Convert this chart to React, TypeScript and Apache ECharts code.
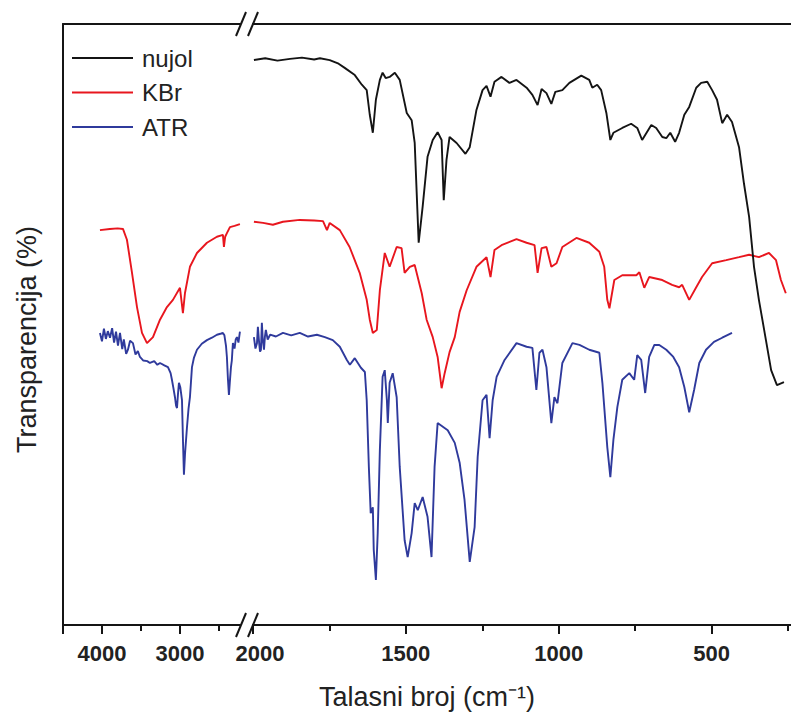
import React, { useEffect, useRef } from "react";
import * as echarts from "echarts";

// ---- data (wavenumber in cm-1, transmittance in arbitrary %) ----
const nujolWn = [1997,1960,1920,1879,1840,1800,1781,1749,1720,1700,1667,1644,1628,1618,1608,1598,1585,1576,1566,1553,1536,1520,1497,1481,1471,1458,1445,1429,1412,1396,1383,1376,1367,1357,1334,1305,1291,1269,1249,1236,1223,1210,1187,1161,1138,1105,1086,1069,1056,1040,1024,1011,988,965,926,900,890,874,861,844,831,821,792,763,743,727,697,681,661,648,635,619,606,589,573,550,534,514,498,482,465,449,433,410,394,377,361,345,322,305,286,263];
const nujolT = [94.0,94.3,93.9,94.2,94.4,94.1,94.3,94.0,93.4,92.7,91.5,89.9,89.0,84.9,81.9,87.4,90.7,91.9,91.0,91.2,91.9,90.7,85.2,84.0,80.2,63.6,69.6,77.9,80.7,82.0,80.7,70.7,77.4,81.2,80.2,78.4,79.5,85.7,89.0,89.7,87.9,90.4,91.2,90.2,90.7,89.4,88.2,86.5,89.2,88.5,86.7,88.7,89.0,90.2,91.4,90.7,89.4,89.9,89.0,85.2,80.7,81.9,82.7,83.4,82.7,80.7,83.2,82.7,81.2,81.0,81.9,80.4,81.9,84.9,86.2,89.4,90.2,90.4,89.0,87.4,83.5,84.9,83.7,79.5,73.5,67.9,59.6,54.1,47.4,42.4,39.9,40.4];

const kbrLeftWn = [4026,3900,3800,3731,3680,3615,3551,3487,3423,3346,3256,3167,3090,3000,2962,2936,2872,2782,2654,2526,2449,2436,2420,2398,2359,2300,2231];
const kbrLeftT = [65.7,65.9,66.0,65.9,64.1,58.6,52.9,48.6,46.9,47.9,50.8,52.9,54.1,56.1,51.9,55.2,59.6,61.9,63.6,64.6,64.9,62.9,64.6,65.2,66.2,66.4,66.7];
const kbrRightWn = [1997,1967,1935,1902,1847,1800,1771,1758,1749,1716,1684,1651,1628,1618,1608,1595,1585,1569,1553,1530,1514,1504,1487,1471,1448,1432,1412,1396,1383,1373,1357,1340,1324,1301,1269,1236,1223,1210,1187,1138,1105,1079,1069,1056,1040,1024,1007,988,942,900,867,851,841,834,818,792,746,736,720,704,661,629,606,596,573,550,531,498,452,410,377,345,312,289,273,257];
const kbrRightT = [67.1,66.9,66.6,67.1,67.4,67.3,67.2,65.7,66.9,65.7,62.9,58.6,54.1,50.8,48.6,49.1,55.7,61.9,59.6,62.9,62.7,58.6,59.6,59.9,55.2,50.8,47.9,44.6,39.4,41.9,45.4,47.9,52.1,55.7,59.6,61.2,57.9,62.4,63.2,64.2,63.6,63.2,58.6,62.7,62.9,59.6,60.2,62.9,64.4,63.6,62.1,59.6,54.1,52.7,57.4,58.2,58.2,58.7,56.1,57.9,57.4,56.6,56.2,56.6,54.1,56.2,57.9,60.2,60.7,61.2,61.6,61.2,61.9,60.7,57.4,55.2];

const atrLeftWn = [4026,4000,3975,3950,3925,3897,3870,3845,3820,3795,3769,3740,3720,3690,3667,3640,3603,3570,3540,3513,3470,3420,3385,3330,3290,3256,3200,3154,3120,3103,3085,3064,3050,3038,3025,3013,2995,2974,2962,2949,2935,2910,2890,2872,2846,2820,2782,2720,2654,2590,2526,2470,2449,2430,2410,2398,2385,2372,2360,2346,2335,2321,2300,2285,2269,2250,2231];
const atrLeftT = [48.6,47.2,49.3,47.6,48.9,47.8,49.4,47.0,48.8,46.5,48.6,45.9,47.5,45.1,45.8,47.3,46.9,45.0,45.6,44.6,44.0,43.9,43.6,43.9,43.3,43.6,43.2,42.9,41.9,40.8,39.5,37.9,36.5,36.1,38.5,40.3,39.5,37.4,31.0,25.0,28.5,32.9,36.0,37.9,42.9,44.5,45.8,46.8,47.4,47.8,48.3,48.5,48.6,48.2,46.5,44.6,41.0,38.3,40.5,42.9,44.0,46.9,46.0,47.5,47.9,47.0,48.8];
const atrRightWn = [1997,1992,1987,1984,1980,1977,1974,1971,1968,1964,1961,1958,1952,1944,1925,1902,1875,1847,1820,1791,1765,1739,1716,1693,1683,1667,1657,1647,1634,1628,1621,1615,1608,1605,1598,1592,1585,1576,1569,1562,1559,1553,1543,1530,1520,1504,1494,1481,1471,1461,1445,1429,1416,1406,1396,1363,1340,1324,1308,1291,1275,1265,1249,1236,1226,1216,1203,1177,1138,1105,1086,1073,1063,1053,1040,1024,1014,1004,988,955,932,900,867,857,841,831,821,808,792,769,753,743,730,717,704,687,671,648,625,606,589,573,557,540,518,492,465,433];
const atrRightT = [47.9,46.0,46.9,49.6,47.0,45.5,45.8,50.3,47.5,45.8,48.0,49.1,47.5,48.3,48.0,48.6,48.2,48.6,48.0,48.3,47.9,47.4,46.3,44.1,43.3,44.4,43.6,42.8,42.1,37.4,26.3,18.6,19.6,12.5,7.5,15.3,29.1,41.3,42.4,37.4,33.6,40.3,41.9,37.9,26.3,14.1,11.3,15.3,20.3,19.1,21.3,18.0,11.3,26.3,33.6,32.4,30.3,27.0,20.8,10.5,16.3,28.0,37.4,38.3,31.1,37.4,41.3,44.1,46.9,46.3,46.1,39.1,45.3,45.8,42.9,33.6,37.9,36.9,43.6,46.9,46.6,45.8,45.3,40.3,29.6,24.6,30.8,36.3,40.8,41.9,40.8,44.9,44.1,38.6,44.6,46.6,46.6,45.8,44.6,42.9,39.6,35.4,39.1,43.6,45.8,47.1,47.8,48.6];

const leftMajorTicks = [4500, 4000, 3000];
const leftLabels = [4000, 3000];
const leftMinorTicks = [3500, 2500];
const rightLabels = [2000, 1500, 1000, 500];
const rightMinorTicks = [1750, 1250, 750, 250];

const seriesNames = ["nujol", "KBr", "ATR"];
const seriesColors = { nujol: "#141414", KBr: "#e8161e", ATR: "#2f3a9c" };

const pairs = (xs: number[], ys: number[]) => xs.map((x, i) => [x, ys[i]]);

export default function App() {
  const ref = useRef<HTMLDivElement>(null);
  useEffect(() => {
    if (!ref.current) return;
    const chart = echarts.init(ref.current, undefined, { renderer: "svg" });
    const axisColor = "#151515";
    const font = "'Liberation Sans', Arial, sans-serif";
    const gridTop = 24;
    const gridH = 601;
    const labelFont = {
      fontFamily: font,
      fontWeight: "bold" as const,
      fontSize: 22,
      color: "#222",
    };
    const tickLabel = {
      ...labelFont,
      margin: 17,
      formatter: (v: number) => (v === 2000 ? "{shift|2000}" : String(v)),
      rich: { shift: { ...labelFont, padding: [0, 0, 0, 14] } },
    };
    const hiddenY = (gi: number) => ({
      type: "value", gridIndex: gi, min: 0, max: 100, show: false,
    });
    const line = (name: string, xi: number, data: number[][], z: number) => ({
      type: "line",
      name,
      xAxisIndex: xi,
      yAxisIndex: xi,
      data,
      symbol: "none",
      showSymbol: false,
      z,
      lineStyle: { color: (seriesColors as any)[name], width: 1.9 },
      itemStyle: { color: (seriesColors as any)[name] },
    });
    const slash = (cx: number, cy: number) => ({
      type: "line",
      shape: { x1: cx - 5, y1: cy + 12, x2: cx + 5, y2: cy - 12 },
      style: { stroke: axisColor, lineWidth: 2 },
      z: 100,
    });
    chart.setOption({
      animation: false,
      backgroundColor: "#fff",
      legend: {
        data: seriesNames.map((n) => ({ name: n, icon: "rect" })),
        orient: "vertical",
        left: 72,
        top: 46,
        padding: 0,
        itemWidth: 61,
        itemHeight: 2,
        itemGap: 10.5,
        textStyle: {
          fontFamily: font,
          fontSize: 24,
          lineHeight: 24,
          color: "#222",
          padding: [0, 0, 0, 4],
        },
      },
      grid: [
        { left: 63, top: gridTop, width: 177, height: gridH },
        { left: 253, top: gridTop, width: 538, height: gridH },
        { left: 63, top: gridTop, width: 177, height: gridH },
        { left: 253, top: gridTop, width: 538, height: gridH },
        { left: 63, top: gridTop, width: 728, height: gridH },
      ],
      xAxis: [
        {
          type: "value", gridIndex: 0, inverse: true, min: 2230, max: 4500, position: "bottom",
          axisLine: { onZero: false, lineStyle: { color: axisColor, width: 2 } },
          axisTick: { customValues: leftMajorTicks, length: 9, lineStyle: { color: axisColor, width: 2 } },
          axisLabel: { ...tickLabel, customValues: leftLabels },
          splitLine: { show: false },
        },
        {
          type: "value", gridIndex: 1, inverse: true, min: 240, max: 2000, position: "bottom",
          axisLine: { onZero: false, lineStyle: { color: axisColor, width: 2 } },
          axisTick: { customValues: rightLabels, length: 9, lineStyle: { color: axisColor, width: 2 } },
          axisLabel: { ...tickLabel, customValues: rightLabels },
          splitLine: { show: false },
        },
        {
          type: "value", gridIndex: 2, inverse: true, min: 2230, max: 4500, position: "bottom",
          axisLine: { show: false, onZero: false },
          axisTick: { customValues: leftMinorTicks, length: 6, lineStyle: { color: axisColor, width: 2 } },
          axisLabel: { show: false },
          splitLine: { show: false },
        },
        {
          type: "value", gridIndex: 3, inverse: true, min: 240, max: 2000, position: "bottom",
          axisLine: { show: false, onZero: false },
          axisTick: { customValues: rightMinorTicks, length: 6, lineStyle: { color: axisColor, width: 2 } },
          axisLabel: { show: false },
          splitLine: { show: false },
        },
        {
          type: "value", gridIndex: 2, inverse: true, min: 2230, max: 4500, position: "top",
          axisLine: { onZero: false, lineStyle: { color: axisColor, width: 2 } },
          axisTick: { show: false }, axisLabel: { show: false }, splitLine: { show: false },
        },
        {
          type: "value", gridIndex: 3, inverse: true, min: 240, max: 2000, position: "top",
          axisLine: { onZero: false, lineStyle: { color: axisColor, width: 2 } },
          axisTick: { show: false }, axisLabel: { show: false }, splitLine: { show: false },
        },
        {
          type: "value", gridIndex: 4, min: 0, max: 1, position: "bottom",
          axisLine: { show: false, onZero: false },
          axisTick: { show: false }, axisLabel: { show: false }, splitLine: { show: false },
          name: "Talasni broj (cm\u207B\u00B9)",
          nameLocation: "middle",
          nameGap: 58,
          nameTextStyle: { fontFamily: font, fontSize: 27, color: "#222" },
        },
      ],
      yAxis: [
        {
          type: "value", gridIndex: 0, min: 0, max: 100,
          axisLine: { show: true, onZero: false, lineStyle: { color: axisColor, width: 2 } },
          axisTick: { show: false }, axisLabel: { show: false }, splitLine: { show: false },
          name: "Transparencija (%)",
          nameLocation: "middle",
          nameGap: 23,
          nameTextStyle: { fontFamily: font, fontSize: 27, color: "#222", padding: [0, 30, 0, 0] },
        },
        hiddenY(1), hiddenY(2), hiddenY(3), hiddenY(4),
      ],
      series: [
        line("ATR", 0, pairs(atrLeftWn, atrLeftT), 2),
        line("ATR", 1, pairs(atrRightWn, atrRightT), 2),
        line("KBr", 0, pairs(kbrLeftWn, kbrLeftT), 3),
        line("KBr", 1, pairs(kbrRightWn, kbrRightT), 3),
        line("nujol", 1, pairs(nujolWn, nujolT), 4),
      ],
      graphic: [slash(241, 24), slash(253, 24), slash(241, 625), slash(253, 625)],
    });
    return () => chart.dispose();
  }, []);
  return (
    <div
      ref={ref}
      style={{ position: "fixed", left: 0, top: 0, width: 791, height: 723, background: "#fff" }}
    />
  );
}
